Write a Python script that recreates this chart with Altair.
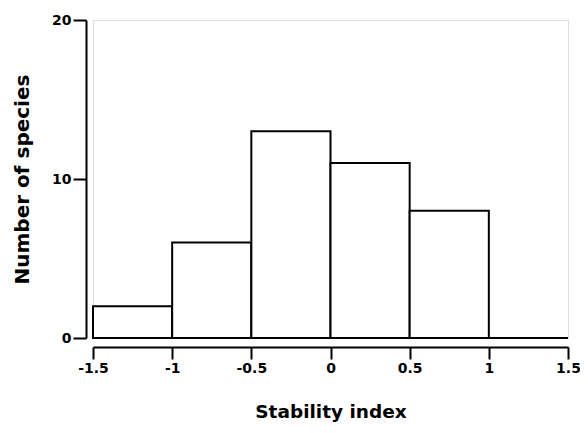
import altair as alt
import pandas as pd

bin_start = [-1.5, -1.0, -0.5, 0.0, 0.5, 1.0]
bin_end = [-1.0, -0.5, 0.0, 0.5, 1.0, 1.5]
counts = [2, 6, 13, 11, 8, 0]
x_ticks = [-1.5, -1, -0.5, 0, 0.5, 1, 1.5]
y_ticks = [0, 10, 20]

df = pd.DataFrame({"start": bin_start, "end": bin_end, "count": counts})

FONT = "DejaVu Sans"

chart = alt.Chart(df).mark_rect(
    fill="white", stroke="black", strokeWidth=2
).encode(
    x=alt.X("start:Q",
            scale=alt.Scale(domain=[-1.5, 1.5], nice=False, zero=False),
            axis=alt.Axis(values=x_ticks, labelExpr="replace(format(datum.value, '~g'), '\u2212', '-')",
                          title="Stability index",
                          offset=9, tickSize=12, tickWidth=2, domainWidth=2,
                          domainColor="black", tickColor="black", grid=False,
                          labelFont=FONT, labelFontSize=14, labelFontWeight="bold",
                          labelColor="black", labelPadding=2, labelFlush=False,
                          titleFont=FONT, titleFontSize=18.5, titleFontWeight="bold",
                          titleColor="black", titlePadding=27)),
    x2="end:Q",
    y=alt.Y("count:Q",
            scale=alt.Scale(domain=[0, 20], nice=False),
            axis=alt.Axis(values=y_ticks, title="Number of species",
                          offset=7, tickSize=13, tickWidth=2, domainWidth=2,
                          domainColor="black", tickColor="black", grid=False,
                          labelFont=FONT, labelFontSize=14, labelFontWeight="bold",
                          labelColor="black", labelPadding=2,
                          titleFont=FONT, titleFontSize=20, titleFontWeight="bold",
                          titleColor="black", titlePadding=19)),
    y2=alt.datum(0),
).properties(
    width=475, height=318,
    autosize=alt.AutoSizeParams(type="none"),
    padding={"left": 85, "top": 12, "right": 12, "bottom": 94},
).configure_view(stroke=None).configure(background="white")

chart.save("out.html", embed_options={"renderer": "svg", "actions": False})
